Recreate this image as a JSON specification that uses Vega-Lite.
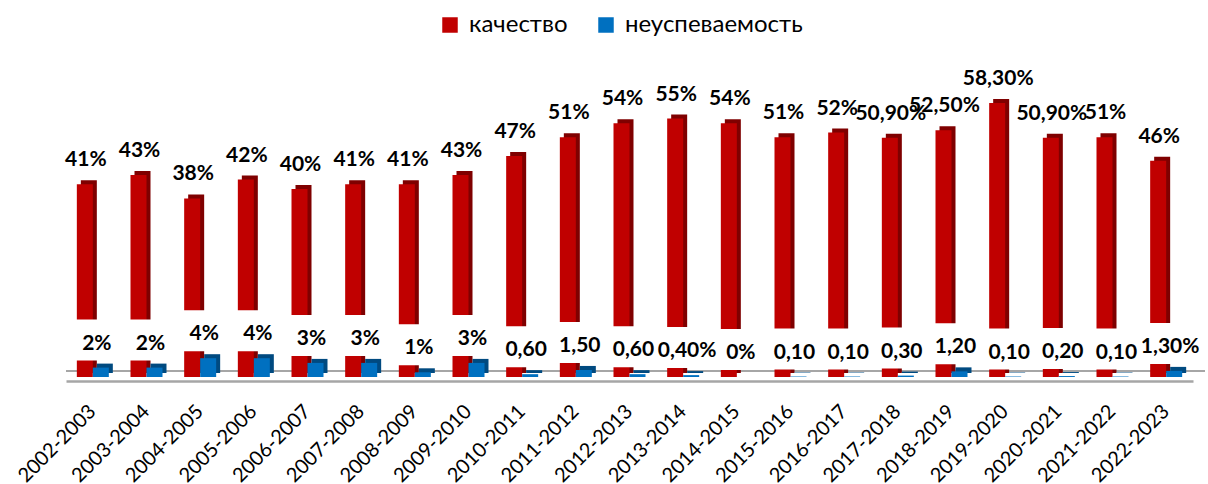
{
  "$schema": "https://vega.github.io/schema/vega-lite/v6.json",
  "autosize": {"type": "none"},
  "padding": {"left": 66, "top": 95, "right": 15, "bottom": 107},
  "width": 1127,
  "height": 282,
  "background": "white",
  "config": {"view": {"stroke": null}, "font": "Lato"},
  "data": {"values": [
    {"p": "2002-2003", "q": 41, "ql": "41%", "f": 2, "fl": "2%"},
    {"p": "2003-2004", "q": 43, "ql": "43%", "f": 2, "fl": "2%"},
    {"p": "2004-2005", "q": 38, "ql": "38%", "f": 4, "fl": "4%"},
    {"p": "2005-2006", "q": 42, "ql": "42%", "f": 4, "fl": "4%"},
    {"p": "2006-2007", "q": 40, "ql": "40%", "f": 3, "fl": "3%"},
    {"p": "2007-2008", "q": 41, "ql": "41%", "f": 3, "fl": "3%"},
    {"p": "2008-2009", "q": 41, "ql": "41%", "f": 1, "fl": "1%"},
    {"p": "2009-2010", "q": 43, "ql": "43%", "f": 3, "fl": "3%"},
    {"p": "2010-2011", "q": 47, "ql": "47%", "f": 0.6, "fl": "0,60"},
    {"p": "2011-2012", "q": 51, "ql": "51%", "f": 1.5, "fl": "1,50"},
    {"p": "2012-2013", "q": 54, "ql": "54%", "f": 0.6, "fl": "0,60"},
    {"p": "2013-2014", "q": 55, "ql": "55%", "f": 0.4, "fl": "0,40%"},
    {"p": "2014-2015", "q": 54, "ql": "54%", "f": 0, "fl": "0%"},
    {"p": "2015-2016", "q": 51, "ql": "51%", "f": 0.1, "fl": "0,10"},
    {"p": "2016-2017", "q": 52, "ql": "52%", "f": 0.1, "fl": "0,10"},
    {"p": "2017-2018", "q": 50.9, "ql": "50,90%", "f": 0.3, "fl": "0,30"},
    {"p": "2018-2019", "q": 52.5, "ql": "52,50%", "f": 1.2, "fl": "1,20"},
    {"p": "2019-2020", "q": 58.3, "ql": "58,30%", "f": 0.1, "fl": "0,10"},
    {"p": "2020-2021", "q": 50.9, "ql": "50,90%", "f": 0.2, "fl": "0,20"},
    {"p": "2021-2022", "q": 51, "ql": "51%", "f": 0.1, "fl": "0,10"},
    {"p": "2022-2023", "q": 46, "ql": "46%", "f": 1.3, "fl": "1,30%"}
  ]},
  "layer": [
    {
      "mark": {"type": "rule", "color": "#A6A6A6", "strokeWidth": 2, "yOffset": -6, "xOffset": 12, "x2Offset": 10},
      "encoding": {"y": {"datum": 0, "type": "quantitative", "scale": {"domain": [0, 60], "nice": false}, "axis": null}}
    },
    {
      "mark": {"type": "bar", "width": 16, "xOffset": -4, "yOffset": -4, "y2Offset": -4, "color": "#7F0000"},
      "encoding": {
        "x": {
          "field": "p", "type": "nominal", "sort": null,
          "scale": {"paddingInner": 0, "paddingOuter": 0},
          "axis": {
            "title": null, "labelAngle": -45, "labelFontSize": 20, "labelFont": "Lato",
            "labelColor": "#000000", "ticks": false, "domainColor": "#A6A6A6", "domainWidth": 2.5,
            "offset": 4, "labelPadding": 27, "labelAlign": "right", "labelBaseline": "middle"
          }
        },
        "y": {"field": "q", "type": "quantitative"}
      }
    },
    {
      "mark": {"type": "bar", "width": 16, "xOffset": -8},
      "encoding": {
        "x": {"field": "p", "type": "nominal", "sort": null},
        "y": {"field": "q", "type": "quantitative"},
        "color": {
          "datum": "качество",
          "scale": {"domain": ["качество", "неуспеваемость"], "range": ["#C00000", "#0070C0"]},
          "legend": {
            "title": null, "orient": "none", "legendX": 372, "legendY": -82, "direction": "horizontal",
            "symbolType": "square", "symbolSize": 240, "symbolStrokeWidth": 0, "labelLimit": 400,
            "labelFontSize": 24, "labelFont": "Lato", "labelColor": "#000000", "columnPadding": 26, "labelOffset": 7
          }
        }
      }
    },
    {
      "mark": {"type": "bar", "width": 16, "xOffset": 12, "yOffset": -4, "y2Offset": -4, "color": "#004A80"},
      "encoding": {
        "x": {"field": "p", "type": "nominal", "sort": null},
        "y": {"field": "f", "type": "quantitative"}
      }
    },
    {
      "mark": {"type": "bar", "width": 16, "xOffset": 8},
      "encoding": {
        "x": {"field": "p", "type": "nominal", "sort": null},
        "y": {"field": "f", "type": "quantitative"},
        "color": {"datum": "неуспеваемость"}
      }
    },
    {
      "mark": {"type": "bar", "width": 50, "xOffset": 2, "yOffset": -7, "y2Offset": -48, "color": "white"},
      "encoding": {
        "x": {"field": "p", "type": "nominal", "sort": null},
        "y": {"field": "f", "type": "quantitative"},
        "y2": {"field": "f"}
      }
    },
    {
      "mark": {"type": "text", "dx": 4, "dy": -18, "baseline": "alphabetic", "fontSize": 21, "fontWeight": "bold", "font": "Lato", "color": "#000000"},
      "encoding": {
        "x": {"field": "p", "type": "nominal", "sort": null},
        "y": {"field": "f", "type": "quantitative"},
        "text": {"field": "fl"}
      }
    },
    {
      "mark": {"type": "text", "dx": -7, "dy": -18, "baseline": "alphabetic", "fontSize": 21, "fontWeight": "bold", "font": "Lato", "color": "#000000"},
      "encoding": {
        "x": {"field": "p", "type": "nominal", "sort": null},
        "y": {"field": "q", "type": "quantitative"},
        "text": {"field": "ql"}
      }
    }
  ]
}
